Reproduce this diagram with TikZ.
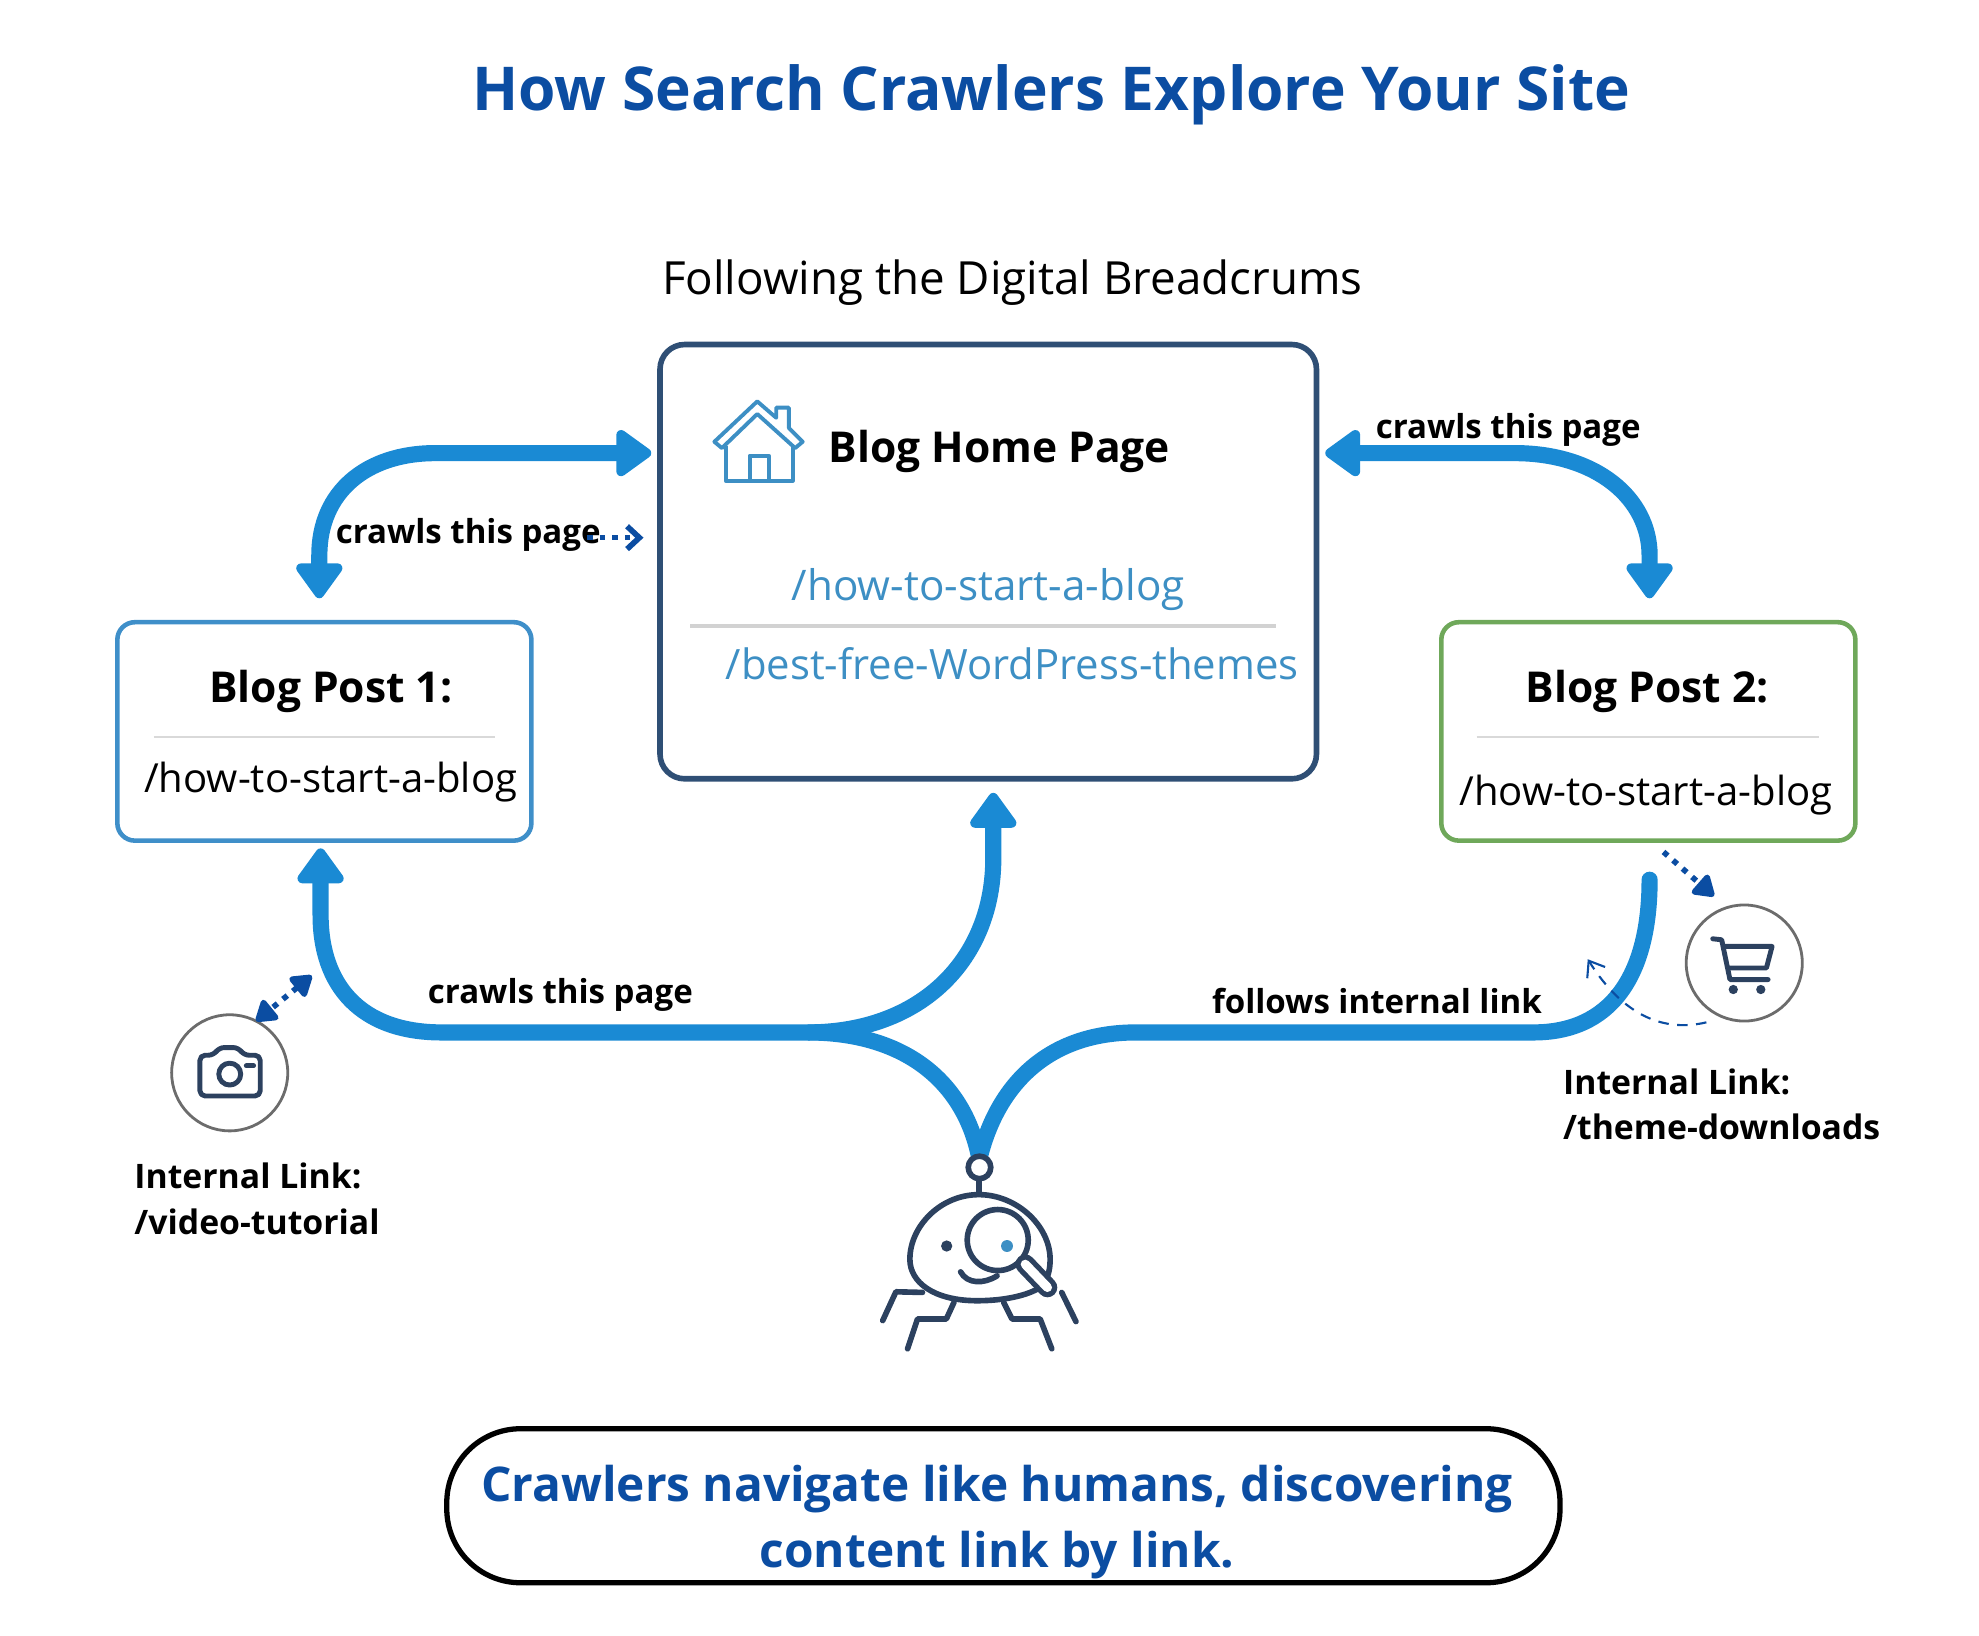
\documentclass[tikz,border=0pt]{standalone}
\usepackage{fontspec}
\setmainfont{Open Sans}
\usetikzlibrary{arrows.meta}

\definecolor{navy}{HTML}{0B4DA2}
\definecolor{flow}{HTML}{1A8AD4}
\definecolor{slate}{HTML}{2F4F75}
\definecolor{ink}{HTML}{2C415F}
\definecolor{linkblue}{HTML}{3D8FC4}
\definecolor{postblue}{HTML}{3F8FC9}
\definecolor{postgreen}{HTML}{6FA85A}

\tikzset{
	homebox/.style={draw=slate, line width=1.6pt, rounded corners=7pt, minimum width=6.563cm, minimum height=4.342cm, outer sep=0pt},
	postbox/.style={line width=1.3pt, rounded corners=5pt, minimum width=4.14cm, minimum height=2.184cm, outer sep=0pt},
	iconring/.style={draw=gray!85!black, line width=0.8pt, circle, minimum size=1.161cm, outer sep=0pt},
	flowline/.style={draw=flow, line width=4.6pt},
	flowhead/.tip={Triangle[length=11pt,width=15pt,round]},
	dothead/.tip={Triangle[length=6.5pt,width=8pt,round]},
	dotlink/.style={draw=navy, line width=1.6pt, dash pattern=on 1.6pt off 2pt},
	label/.style={font=\bfseries\fontsize{9.4}{13}\selectfont, inner sep=0pt},
	linklabel/.style={font=\bfseries\fontsize{9.6}{13}\selectfont, inner sep=0pt, anchor=north west, align=left},
	icon/.style={draw=ink, line width=1.4pt, line cap=round, line join=round},
	bug/.style={draw=ink, line width=1.6pt, line cap=round, line join=round},
}

\begin{document}
\begin{tikzpicture}[x=0.012621cm, y=-0.012621cm]

	\useasboundingbox (0,0) rectangle (1568,1296);

	% titles
	\node (title) [text=navy, font=\bfseries\fontsize{17.2}{22}\selectfont] at (833,75) {How Search Crawlers Explore Your Site};
	\node (subtitle) [font=\fontsize{13}{16}\selectfont] at (802,224) {Following the Digital Breadcrums};

	% pages
	\node (home) [homebox] at (783,445) {};
	\node (post1) [postbox, draw=postblue] at (257,579.5) {};
	\node (post2) [postbox, draw=postgreen] at (1306,579.5) {};

	\node (hometext) [anchor=west, inner sep=0pt, font=\bfseries\fontsize{12.1}{15}\selectfont] at (656,358) {Blog Home Page};
	\node (homelink1) [text=linkblue, font=\fontsize{12}{15}\selectfont] at (783,467) {/how-to-start-a-blog};
	\node (homelink2) [text=linkblue, font=\fontsize{11.9}{15}\selectfont] at (802,526) {/best-free-WordPress-themes};
	\draw[gray!35, line width=1.1pt] (547,496) -- (1011,496);

	\node (post1text) [font=\bfseries\fontsize{12.1}{15}\selectfont] at (262,548) {Blog Post 1:};
	\node (post1link) [font=\fontsize{11.4}{15}\selectfont] at (262,620) {/how-to-start-a-blog};
	\draw[gray!30, line width=0.5pt] (122,584) -- (392,584);

	\node (post2text) [font=\bfseries\fontsize{12.1}{15}\selectfont] at (1305,548) {Blog Post 2:};
	\node (post2link) [font=\fontsize{11.4}{15}\selectfont] at (1304,630) {/how-to-start-a-blog};
	\draw[gray!30, line width=0.5pt] (1170,584) -- (1441,584);

	% house icon
	\draw[draw=linkblue, line width=1.1pt, line join=round] (600,318) -- (566,350) -- (572,355) -- (600,328) -- (630,355) -- (636,350) -- (625,339) -- (625,323) -- (615,323) -- (615,331) -- cycle;
	\draw[draw=linkblue, line width=1.1pt, line join=round] (575,353) -- (575,381) -- (628,381) -- (628,353);
	\draw[draw=linkblue, line width=1.1pt, line join=round] (594,381) -- (594,361) -- (609,361) -- (609,381);

	% flows between the pages
	\draw[flowline, flowhead-flowhead, shorten <=6.8pt, shorten >=2.5pt]
		(post1.north -| 253,440) -- (253,440) .. controls (253,390) and (290,359) .. (345,359) -- (home.west |- 345,359);
	\draw[flowline, flowhead-flowhead, shorten <=2.5pt, shorten >=6.8pt]
		(home.east |- 1200,359) -- (1200,359) .. controls (1265,359) and (1307,395) .. (1307,440) -- (post2.north -| 1307,440);

	% flows from the crawler
	\coordinate (crawler) at (776,918);
	\coordinate (fork) at (640,818);
	\coordinate (reach) at (1307,697);

	\draw[flowline, -flowhead, shorten >=2.2pt] (crawler) .. controls (765,860) and (720,818) .. (fork) -- (350,818)
		.. controls (285,818) and (254,780) .. (254,725) -- (post1.south -| 254,725);
	\draw[flowline, -flowhead, shorten >=4pt] (fork) .. controls (730,818) and (787,760) .. (787,680) -- (home.south -| 787,680);
	\draw[flowline, line cap=round] (crawler) .. controls (790,860) and (830,818) .. (900,818) -- (1215,818)
		.. controls (1275,818) and (1307,775) .. (reach);

	% labels
	\node (crawl1) [label] at (371,424) {crawls this page};
	\node (crawl2) [label] at (1195,341) {crawls this page};
	\node (crawl3) [label] at (444,788) {crawls this page};
	\node (follows) [label] at (1091,793) {follows internal link};

	\node (linkvideo) [linklabel] at (106,921) {Internal Link:\\/video-tutorial};
	\node (linktheme) [linklabel] at (1238,846) {Internal Link:\\/theme-downloads};

	% camera
	\node (camera) [iconring] at (182,850) {};
	\begin{scope}[shift={(119.5,753.3)}, scale=0.2627]
		\draw[icon, rounded corners=1.5pt] (148,315) -- (190,315) -- (205,292) -- (265,292) -- (280,315) -- (330,315) -- (330,438) -- (148,438) -- cycle;
		\draw[icon] (238,372) circle (33);
		\draw[icon] (288,347) -- (310,347);
	\end{scope}

	% cart
	\node (cart) [iconring] at (1382,763) {};
	\begin{scope}[shift={(1236.7,657.9)}, scale=0.2627]
		\draw[icon] (458,327) -- (485,330) -- (510,450) -- (625,450);
		\draw[icon] (490,350) -- (637,350) -- (620,415) -- (505,415);
		\fill[ink] (520,480) circle (14);
		\fill[ink] (603,480) circle (14);
	\end{scope}

	% internal links
	\coordinate (V1) at (247,773);
	\coordinate (T1) at (1318,675);
	\coordinate (T2) at (1358,710);
	\coordinate (D1) at (1352,810);
	\coordinate (D2) at (1258,760);
	\coordinate (P1) at (465,426);

	\draw[dotlink, dothead-dothead] (V1) -- (camera.63);
	\draw[dotlink, -dothead] (T1) -- (T2);
	\draw[dotlink, -{Straight Barb[length=3.5pt,width=6.5pt]}, shorten >=4.7pt] (P1) -- (home.west |- P1);
	\draw[draw=navy, line width=0.6pt, dash pattern=on 3pt off 2.4pt, -{Straight Barb[length=4pt,width=6pt]}] (D1) .. controls (1310,820) and (1280,795) .. (D2);

	% crawler
	\begin{scope}[shift={(635,887.4)}, scale=0.2627]
		\draw[bug, fill=white] (537,143) circle (34);
		\draw[bug] (535,180) -- (535,222);
		\draw[bug, fill=white] (535,225) .. controls (420,225) and (327,320) .. (327,420) .. controls (327,490) and (400,545) .. (530,545)
			.. controls (610,545) and (680,530) .. (720,505) .. controls (745,480) and (750,450) .. (750,420) .. controls (750,320) and (650,225) .. (535,225) -- cycle;
		\fill[ink] (438,380) circle (17);
		\draw[bug, fill=white] (592,362) circle (92);
		\fill[linkblue] (620,380) circle (18);
		\draw[ink, line width=5.6pt, line cap=round] (675,435) -- (742,505);
		\draw[white, line width=2.6pt, line cap=round] (675,435) -- (742,505);
		\draw[bug] (480,458) .. controls (500,495) and (550,495) .. (590,470);
		\draw[bug] (365,520) -- (285,518) -- (245,605);
		\draw[bug] (460,550) -- (437,600) -- (350,600) -- (320,690);
		\draw[bug] (610,550) -- (635,600) -- (720,600) -- (755,690);
		\draw[bug] (785,520) -- (828,608);
	\end{scope}

	% takeaway
	\node (pill) [draw=black, line width=1.5pt, rounded corners=21pt, minimum width=11.13cm, minimum height=1.54cm, outer sep=0pt] at (795,1193) {};
	\node (takeaway) [text=navy, align=center, inner sep=0pt, font=\bfseries\fontsize{13.6}{19}\selectfont] at (790,1206) {Crawlers navigate like humans, discovering\\content link by link.};

\end{tikzpicture}
\end{document}
